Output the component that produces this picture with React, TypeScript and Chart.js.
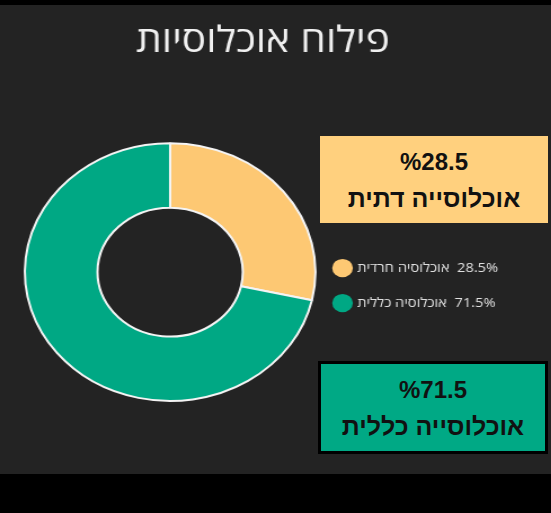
import React, { useEffect, useRef } from 'react';
import { Chart, registerables } from 'chart.js';

Chart.register(...registerables);

// ---- data ----
const titleText = 'פילוח אוכלוסיות';
const categories = ['אוכלוסיה חרדית', 'אוכלוסיה כללית'];
const values = [28.5, 71.5];
const legendValueLabels = ['28.5%', '71.5%'];
const sliceColors = ['#FDC873', '#00A884'];
const calloutPercents = ['%28.5', '%71.5'];
const calloutLabels = ['אוכלוסייה דתית', 'אוכלוסייה כללית'];

// ---- layout ----
const SX = 1.127; // horizontal stretch of the original picture
const CW = 489;
const CH = 469;
const SANS = "'Open Sans', 'DejaVu Sans', sans-serif";
const BOLD = "'Liberation Sans', Arial, 'DejaVu Sans', sans-serif";

export default function App() {
  const ref = useRef<HTMLCanvasElement>(null);

  useEffect(() => {
    document.body.style.margin = '0';
    const chart = new Chart(ref.current as HTMLCanvasElement, {
      type: 'doughnut',
      data: {
        labels: categories,
        datasets: [
          {
            data: values,
            backgroundColor: sliceColors,
            borderColor: '#f4f4f4',
            borderWidth: 2,
            hoverOffset: 0,
          },
        ],
      },
      options: {
        responsive: false,
        animation: false,
        cutout: '50%',
        events: [],
        layout: { padding: { top: 0, left: 14.5, right: 37, bottom: 72 } },
        plugins: {
          tooltip: { enabled: false },
          title: {
            display: true,
            text: titleText,
            color: '#f0f0f0',
            font: { family: SANS, size: 36, weight: 'normal', lineHeight: 1.2 },
            padding: { top: 15, bottom: 79 },
          },
          legend: {
            position: 'right',
            fullSize: false,
            align: 'center',
            title: {
              display: true,
              text: ' ',
              font: { size: 10, lineHeight: '19px' },
              padding: { top: 20, bottom: 0 },
            },
            labels: {
              usePointStyle: true,
              pointStyle: 'circle',
              padding: 10,
              color: '#e0e0e0',
              font: { family: SANS, size: 13, lineHeight: '25px' },
              generateLabels: () =>
                categories.map((c, i) => ({
                  text: [c + '\u200E  ' + legendValueLabels[i]],
                  fillStyle: sliceColors[i],
                  strokeStyle: sliceColors[i],
                  lineWidth: 0,
                  pointStyle: 'circle',
                  hidden: false,
                  index: i,
                  fontColor: '#e0e0e0',
                })) as any,
            },
          },
        },
      } as any,
    });
    return () => chart.destroy();
  }, []);

  const boxText = (pct: string, label: string) => (
    <>
      <div style={{ lineHeight: '36px' }}>{pct}</div>
      <div style={{ lineHeight: '36px', fontSize: 25 }}>{label}</div>
    </>
  );

  const boxBase: React.CSSProperties = {
    position: 'absolute',
    boxSizing: 'border-box',
    display: 'flex',
    flexDirection: 'column',
    alignItems: 'center',
    justifyContent: 'center',
    fontFamily: BOLD,
    fontWeight: 'bold',
    fontSize: 24,
    color: '#111',
  };

  return (
    <div style={{ position: 'fixed', left: 0, top: 0, width: 551, height: 513, background: '#000', overflow: 'hidden' }}>
      <div style={{ position: 'absolute', left: 0, top: 5, width: 551, height: 469, background: '#232323' }}>
        <div style={{ position: 'absolute', left: 0, top: 0, width: CW, height: CH, transform: `scaleX(${SX})`, transformOrigin: '0 0' }}>
          <canvas ref={ref} width={CW} height={CH} />
        </div>
      </div>
      <div style={{ ...boxBase, left: 320, top: 136, width: 228, height: 87, background: '#FFD07E' }}>
        {boxText(calloutPercents[0], calloutLabels[0])}
      </div>
      <div style={{ ...boxBase, left: 318, top: 361, width: 230, height: 93, background: '#00A985', border: '3px solid #000' }}>
        {boxText(calloutPercents[1], calloutLabels[1])}
      </div>
    </div>
  );
}
